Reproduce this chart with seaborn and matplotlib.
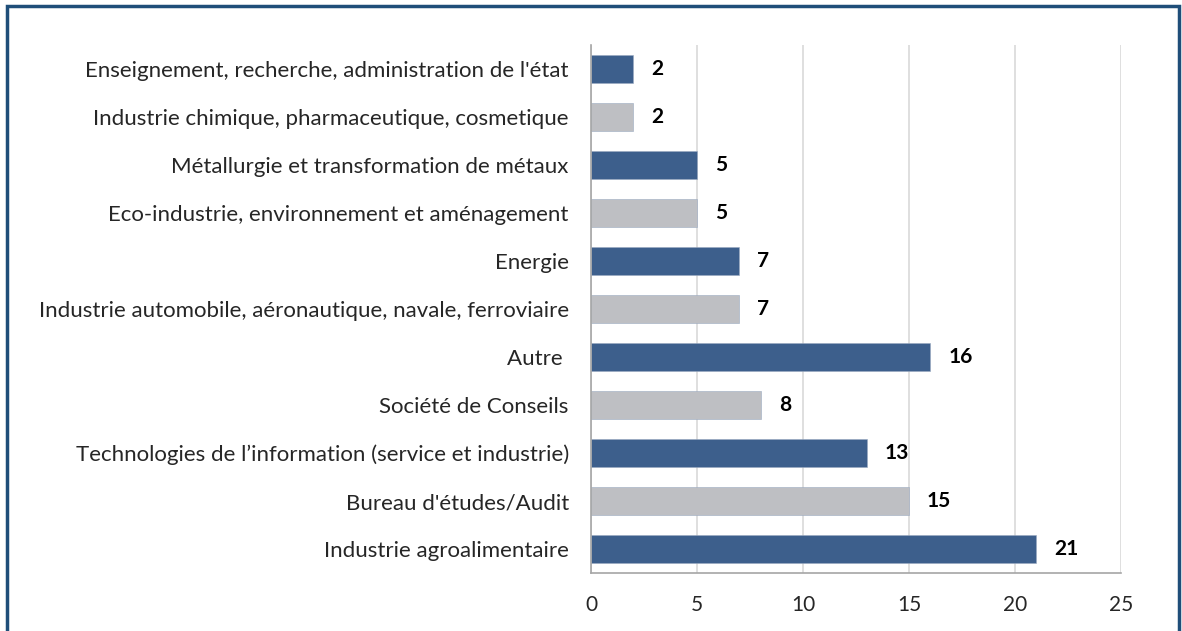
import matplotlib.pyplot as plt
import seaborn as sns
from matplotlib.patches import Rectangle

# Données (de haut en bas)
categories = [
    "Enseignement, recherche, administration de l'état",
    "Industrie chimique, pharmaceutique, cosmetique",
    "Métallurgie et transformation de métaux",
    "Eco-industrie, environnement et aménagement",
    "Energie",
    "Industrie automobile, aéronautique, navale, ferroviaire",
    "Autre ",
    "Société de Conseils",
    "Technologies de l’information (service et industrie)",
    "Bureau d'études/Audit",
    "Industrie agroalimentaire",
]
valeurs = [2, 2, 5, 5, 7, 7, 16, 8, 13, 15, 21]
x_ticks = [0, 5, 10, 15, 20, 25]

BLEU = '#3D5F8C'
GRIS = '#BEBFC3'
couleurs = [BLEU if i % 2 == 0 else GRIS for i in range(len(categories))]

sns.set_style('white')
plt.rcParams['font.family'] = ['Lato', 'DejaVu Sans']

fig = plt.figure(figsize=(11.82, 6.31), dpi=100)
ax = fig.add_axes([0.5, 0.0919, 0.4484, 0.8368])

sns.barplot(x=valeurs, y=categories, hue=categories, palette=couleurs,
            legend=False, width=0.57, ax=ax, saturation=1,
            edgecolor='#9AAAC0', linewidth=0.4)

for i, v in enumerate(valeurs):
    ax.annotate(str(v), xy=(v, i), xytext=(13, 0), textcoords='offset points',
                ha='left', va='center', fontsize=15, fontweight='bold', color='black')

ax.set_xlim(0, 25)
ax.set_ylim(10.5, -0.5)
ax.set_xticks(x_ticks)
ax.set_xlabel('')
ax.set_ylabel('')
ax.xaxis.grid(True, color='#D9D9D9', linewidth=1.2)
ax.set_axisbelow(True)
for s in ['top', 'right']:
    ax.spines[s].set_visible(False)
for s in ['left', 'bottom']:
    ax.spines[s].set_color('#A6A6A6')
    ax.spines[s].set_linewidth(1.2)
ax.tick_params(axis='x', length=4, color='#D9D9D9', labelsize=15, pad=12)
ax.tick_params(axis='y', length=0, labelsize=16, pad=16)

# Cadre bleu autour de la figure
fig.patches.append(Rectangle((7 / 1182, -0.05), 1172 / 1182, 1 - 6 / 631 + 0.05,
                             transform=fig.transFigure, fill=False,
                             edgecolor='#1F4E79', linewidth=2.5, zorder=10))

fig.savefig('out.png', dpi=100, facecolor='white')
